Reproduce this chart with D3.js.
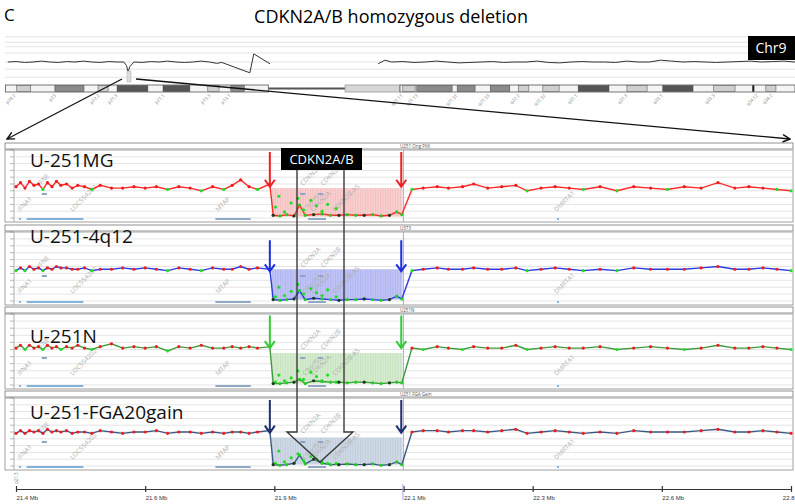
<!DOCTYPE html>
<html lang="en">
<head>
<meta charset="utf-8">
<title>CDKN2A/B homozygous deletion</title>
<script src="https://cdn.jsdelivr.net/npm/d3@7"></script>
<style>
  body { margin: 0; background: #fff; }
  svg { display: block; font-family: "Open Sans", sans-serif; }
</style>
</head>
<body>
<div id="chart"></div>
<script>
'use strict';

// ---- chromosome 9 overview: position (Mb) and copy number ----
const chrPos = [0.5, 2, 3.5, 5, 6.5, 8, 9.5, 11, 12.5, 14, 15.5, 17, 18.5, 20, 21.2, 21.7, 21.95, 22.3, 23, 24.5,
  26, 27.5, 29, 30.5, 32, 33.5, 35, 36.5, 37.8, 38.7, 43.7, 44.4, 47.3,
  55,
  66.6, 67.8, 69, 71, 73, 75, 77, 79, 81, 83, 85, 87, 89, 91, 93, 95, 97, 99, 101, 103, 105,
  107, 109, 111, 113, 115, 117, 119, 121, 123, 125, 127, 129, 131, 133, 135, 137, 139, 141];
const chrCN = [2.0, 2.05, 1.95, 2.0, 2.1, 2.0, 1.95, 2.05, 2.0, 2.1, 2.0, 1.95, 2.05, 2.0, 2.0, 1.6, 0.9, 1.5, 2.0, 1.95,
  2.05, 2.0, 2.1, 2.0, 1.95, 2.0, 2.1, 2.0, 1.85, 1.95, 0.8, 2.9, 1.8,
  null,
  1.8, 2.2, 2.0, 2.05, 1.95, 2.0, 2.1, 2.0, 1.9, 1.95, 2.0, 2.05, 1.95, 2.0, 2.0, 2.1, 1.95, 1.9, 2.0, 2.05,
  2.0, 2.0, 1.95, 2.1, 2.0, 2.0, 2.2, 2.1, 2.0, 2.05, 2.0, 1.95, 2.0, 2.05, 2.1, 2.0, 2.05, 2.1, 2.0];

// cytobands (Mb) and stain
const bandStart = [2.1, 8.9, 16.6, 20.0, 28.2, 36.2, 40.3, 71.0, 73.5, 80.7, 86.6, 91.6, 96.0, 102.3, 111.0, 117.4, 126.5, 133.4, 135.8];
const bandEnd   = [4.6, 14.1, 18.4, 25.5, 33.0, 38.2, 42.7, 73.2, 79.8, 83.9, 90.1, 93.5, 98.9, 107.8, 114.6, 122.8, 130.3, 133.7, 137.6];
const bandStain = ['l', 'm', 'l', 'd', 'd', 'l', 'm', 'l', 'm', 'm', 'm', 'l', 'l', 'd', 'l', 'd', 'l', 'k', 'l'];
const bandLabelPos = [1.4, 8.6, 16.4, 19.6, 28.0, 36.2, 39.8, 70.5, 73.2, 80.3, 86.0, 91.4, 96.0, 101.7, 110.6, 116.9, 126.2, 133.9, 136.5];
const bandLabels = ['p24.2', 'p23', 'p22.2', 'p21.3', 'p21.1', 'p13.3', 'p13.1', 'q21.11', 'q21.13', 'q21.31', 'q21.33',
  'q22.2', 'q22.32', 'q31.1', 'q31.3', 'q33.1', 'q33.3', 'q34.12', 'q34.2'];

// ---- zoomed region: probe positions (Mb) ----
const probePos = [21.400, 21.408, 21.416, 21.424, 21.432, 21.440, 21.448, 21.456, 21.464, 21.472, 21.480, 21.490,
  21.500, 21.510, 21.522, 21.535, 21.550, 21.570, 21.590, 21.610, 21.630, 21.650, 21.670, 21.690, 21.710, 21.730,
  21.750, 21.770, 21.785, 21.800, 21.815, 21.830, 21.852,
  21.858, 21.870, 21.882, 21.895, 21.905, 21.915, 21.930, 21.945, 21.960, 21.975, 21.990, 22.005, 22.020, 22.035,
  22.050, 22.065, 22.078, 22.087,
  22.105, 22.125, 22.150, 22.170, 22.195, 22.215, 22.240, 22.265, 22.290, 22.310, 22.335, 22.360, 22.385, 22.410,
  22.440, 22.470, 22.500, 22.530, 22.560, 22.590, 22.620, 22.650, 22.680, 22.705, 22.730, 22.755, 22.780];

const cnU251MG = [2.3, 2.6, 2.2, 2.7, 2.4, 2.5, 2.1, 2.6, 2.3, 2.7, 2.4, 2.5, 2.2, 2.4, 2.3, 2.1, 2.4, 2.2, 2.2, 2.3,
  2.2, 2.3, 2.1, 2.3, 2.2, 2.0, 2.3, 2.1, 2.4, 2.8, 2.3, 2.1, 2.5,
  0.2, 0.15, 0.25, 0.15, 0.95, 0.2, 0.25, 0.3, 0.2, 0.2, 0.25, 0.2, 0.2, 0.25, 0.15, 0.2, 0.45, 0.25,
  2.1, 2.2, 2.3, 2.2, 2.3, 2.5, 2.2, 2.3, 2.4, 2.0, 2.2, 2.3, 2.2, 2.1, 2.3, 2.0, 2.3, 2.2, 2.1, 2.3, 2.2, 2.6, 2.2,
  2.3, 2.2, 2.1, 2.0];
const cn4q12 = [2.2, 2.4, 2.2, 2.5, 2.3, 2.4, 2.2, 2.4, 2.3, 2.5, 2.4, 2.4, 2.3, 2.3, 2.4, 2.2, 2.3, 2.3, 2.4, 2.3,
  2.4, 2.3, 2.2, 2.4, 2.3, 2.2, 2.4, 2.3, 2.3, 2.5, 2.3, 2.4, 2.3,
  0.1, 0.05, 0.1, 0.15, 0.75, 0.1, 0.2, 0.15, 0.1, 0.05, 0.1, 0.1, 0.15, 0.1, 0.05, 0.1, 0.35, 0.15,
  2.2, 2.3, 2.4, 2.3, 2.3, 2.4, 2.3, 2.3, 2.4, 2.2, 2.3, 2.4, 2.3, 2.2, 2.3, 2.2, 2.4, 2.3, 2.3, 2.3, 2.4, 2.5, 2.3,
  2.3, 2.4, 2.3, 2.2];
const cnU251N = [2.6, 2.8, 2.5, 2.8, 2.6, 2.7, 2.5, 2.8, 2.6, 2.7, 2.5, 2.7, 2.6, 2.8, 2.6, 2.5, 2.7, 2.9, 2.6, 2.7,
  2.6, 2.7, 2.4, 2.7, 2.6, 2.8, 2.6, 2.6, 2.7, 2.6, 2.7, 2.6, 2.7,
  0.1, 0.1, 0.15, 0.2, 0.4, 0.1, 0.3, 0.25, 0.2, 0.2, 0.15, 0.2, 0.2, 0.15, 0.1, 0.15, 0.2, 0.15,
  2.6, 2.5, 2.7, 2.6, 2.5, 2.7, 2.6, 2.6, 2.8, 2.5, 2.6, 2.7, 2.6, 2.6, 2.7, 2.5, 2.6, 2.7, 2.6, 2.5, 2.6, 2.8, 2.6,
  2.6, 2.7, 2.6, 2.5];
const cnFGA = [2.4, 2.6, 2.4, 2.6, 2.5, 2.6, 2.4, 2.7, 2.5, 2.6, 2.5, 2.6, 2.4, 2.5, 2.5, 2.4, 2.6, 2.5, 2.4, 2.5,
  2.5, 2.6, 2.4, 2.5, 2.5, 2.4, 2.5, 2.4, 2.5, 2.5, 2.4, 2.5, 2.6,
  0.1, 0.05, 0.1, 0.2, 0.8, 0.15, 0.5, 0.2, 0.1, 0.1, 0.15, 0.1, 0.1, 0.15, 0.05, 0.1, 0.3, 0.1,
  2.5, 2.6, 2.6, 2.5, 2.6, 2.6, 2.5, 2.6, 2.7, 2.4, 2.5, 2.6, 2.5, 2.4, 2.5, 2.4, 2.6, 2.5, 2.5, 2.5, 2.6, 2.7, 2.5,
  2.5, 2.6, 2.5, 2.4];

// scattered probes inside the deletion
const scatterPos = [21.862, 21.868, 21.878, 21.890, 21.902, 21.912, 21.925, 21.935, 21.945, 21.955, 21.970];
const scU251MG = [0.8, 1.6, 0.45, 1.1, 1.45, 0.6, 1.3, 0.9, 0.5, 1.0, 0.7];
const sc4q12   = [0.3, 1.0, 0.4, 0.7, 1.2, 0.5, 0.9, 0.6, 0.4, 0.8, 0.3];
const scU251N  = [0.2, 0.7, 0.3, 0.5, 1.0, 0.4, 0.9, 0.6, 0.3, 0.7, 0.2];
const scFGA    = [0.2, 1.1, 0.3, 0.6, 0.9, 0.4, 0.7, 0.5, 0.3, 0.2, 0.2];

const panelNames = ['U-251MG', 'U-251-4q12', 'U-251N', 'U-251-FGA20gain'];
const headerNames = ['U251 Orig P66', 'U373', 'U251N', 'U251 FGA Gain'];
const cnSeries = [cnU251MG, cn4q12, cnU251N, cnFGA];
const scatterSeries = [scU251MG, sc4q12, scU251N, scFGA];
const normalLevel = [2.2, 2.3, 2.6, 2.4];   // dots above are red, below green
const shadeTop = [2.2, 2.3, 2.25, 2.1];
const arrowTop = [4.85, 4.4, 4.9, 4.85];
const arrowTip = [2.3, 2.15, 2.6, 2.45];
const deletion = [21.855, 22.088];

// genes (Mb) and label row
const geneNames = ['IFNA1', 'IFNE', 'LOC554202', 'MTAP', 'CDKN2A', 'CDKN2B', 'C9orf53', 'CDKN2A', 'CDKN2B-AS', 'DMRTA1'];
const genePos = [21.407, 21.443, 21.501, 21.760, 21.911, 21.947, 21.915, 21.929, 21.968, 22.363];
const geneRow = [0, 1, 0, 0, 1, 1, 0, 0, 0, 0];
const transStart = [21.419, 21.755, 21.920];
const transEnd = [21.520, 21.818, 21.952];
const probeMarks = [21.446, 21.906, 21.938];

const axisTicks = [21.4, 21.63, 21.86, 22.09, 22.32, 22.55, 22.78];
const axisLabels = ['21.4 Mb', '21.6 Mb', '21.9 Mb', '22.1 Mb', '22.3 Mb', '22.6 Mb', '22.8'];

// ---- styling ----
const lineColor = ['#ff2a2a', '#2b3be0', '#3c9a3c', '#3d5a86'];
const arrowColor = ['#f02020', '#1c2ee0', '#33cc33', '#1f2f6f'];
const shadeColor = ['#f8d0d0', '#c0c4f4', '#d6ecd0', '#cfdae6'];
const hatchColor = ['#eeaaaa', '#9ea4ec', '#b4d8aa', '#aebfd2'];
const stainColor = { l: '#cfcfcf', m: '#8a8a8a', d: '#555', k: '#111' };

const width = 795, height = 504;
const panelTop = [143, 225, 307, 391];
const panelBottom = [222, 305, 389, 470];

const svg = d3.select('#chart').append('svg')
  .attr('width', width)
  .attr('height', height);

const defs = svg.append('defs');

// title
svg.append('text').attr('x', 4).attr('y', 21).attr('font-size', 17).text('C');
svg.append('text').attr('x', 391).attr('y', 23).attr('font-size', 18)
  .attr('text-anchor', 'middle').text('CDKN2A/B homozygous deletion');

// ---- overview ----
const cx = d3.scaleLinear().domain([0, 141]).range([5, 795]);
const cy = d3.scaleLinear().domain([0, 5]).range([80, 35]);

svg.append('g').selectAll('line')
  .data([0.3, 1.2, 2, 3, 3.7, 4.2, 4.8])
  .enter().append('line')
  .attr('x1', 5).attr('x2', 795)
  .attr('y1', d => cy(d)).attr('y2', d => cy(d))
  .attr('stroke', '#dcdcdc').attr('stroke-width', 0.8);

svg.append('path')
  .datum(chrPos.map((p, i) => [p, chrCN[i]]))
  .attr('fill', 'none').attr('stroke', '#333').attr('stroke-width', 1)
  .attr('d', d3.line().defined(d => d[1] !== null).x(d => cx(d[0])).y(d => cy(d[1])));

svg.append('rect').attr('x', 127).attr('y', 71).attr('width', 4).attr('height', 11)
  .attr('fill', '#ddd').attr('stroke', '#aaa').attr('stroke-width', 0.5);

svg.append('rect').attr('x', 748).attr('y', 36).attr('width', 47).attr('height', 24).attr('fill', '#000');
svg.append('text').attr('x', 771).attr('y', 53).attr('font-size', 14).attr('fill', '#fff')
  .attr('text-anchor', 'middle').text('Chr9');

// ideogram
const ideo = svg.append('g');
ideo.append('line').attr('x1', cx(47)).attr('x2', cx(60.7)).attr('y1', 88.5).attr('y2', 88.5)
  .attr('stroke', '#555').attr('stroke-width', 2);
ideo.append('rect').attr('x', cx(0.1)).attr('y', 85).attr('width', cx(47) - cx(0.1)).attr('height', 7)
  .attr('fill', '#f4f4f4').attr('stroke', '#555').attr('stroke-width', 0.8);
ideo.append('rect').attr('x', cx(60.7)).attr('y', 85).attr('width', cx(70.5) - cx(60.7)).attr('height', 7)
  .attr('fill', '#d6d6d6').attr('stroke', '#999').attr('stroke-width', 0.8);
ideo.append('rect').attr('x', cx(70.5)).attr('y', 85).attr('width', cx(141) - cx(70.5)).attr('height', 7)
  .attr('fill', '#f4f4f4').attr('stroke', '#555').attr('stroke-width', 0.8);
ideo.selectAll('.band')
  .data(bandStart)
  .enter().append('rect')
  .attr('class', 'band')
  .attr('x', d => cx(d))
  .attr('y', 85.5)
  .attr('width', (d, i) => Math.max(1, cx(bandEnd[i]) - cx(d)))
  .attr('height', 6)
  .attr('fill', (d, i) => stainColor[bandStain[i]])
  .attr('stroke', '#444').attr('stroke-width', 0.5);
ideo.selectAll('.blab')
  .data(bandLabels)
  .enter().append('text')
  .attr('class', 'blab')
  .attr('transform', (d, i) => 'translate(' + (cx(bandLabelPos[i]) + 3) + ',96) rotate(-45)')
  .attr('text-anchor', 'end')
  .attr('font-size', 4.5).attr('fill', '#777')
  .text(d => d);

// zoom lines with open arrowheads
defs.append('marker').attr('id', 'open')
  .attr('viewBox', '0 0 10 10').attr('refX', 9).attr('refY', 5)
  .attr('markerWidth', 7).attr('markerHeight', 7).attr('orient', 'auto')
  .append('path').attr('d', 'M1,1 L9,5 L1,9').attr('fill', 'none').attr('stroke', '#111').attr('stroke-width', 1.6);
svg.append('line').attr('x1', 122).attr('y1', 79).attr('x2', 7).attr('y2', 139)
  .attr('stroke', '#111').attr('stroke-width', 1.3).attr('marker-end', 'url(#open)');
svg.append('line').attr('x1', 136).attr('y1', 79).attr('x2', 790).attr('y2', 139)
  .attr('stroke', '#111').attr('stroke-width', 1.3).attr('marker-end', 'url(#open)');

// ---- zoomed panels ----
const x = d3.scaleLinear().domain([21.4, 22.78]).range([16, 791]);
const gridVals = [0, 0.5, 1, 1.5, 2, 2.5, 3, 3.5, 4, 4.5, 5];

panelNames.forEach((name, i) => {
  const top = panelTop[i], plotTop = top + 7, bottom = panelBottom[i];
  const y = d3.scaleLinear().domain([0, 5]).range([bottom - 4, plotTop]);
  const g = svg.append('g');

  // hatch pattern for the deleted segment
  const pat = defs.append('pattern').attr('id', 'hatch' + i)
    .attr('patternUnits', 'userSpaceOnUse').attr('width', 2.5).attr('height', 4);
  pat.append('rect').attr('width', 2.5).attr('height', 4).attr('fill', shadeColor[i]);
  pat.append('line').attr('x1', 0.5).attr('x2', 0.5).attr('y1', 0).attr('y2', 4)
    .attr('stroke', hatchColor[i]).attr('stroke-width', 0.5);

  // header strip and frame
  g.append('rect').attr('x', 5).attr('y', top).attr('width', 788).attr('height', 6)
    .attr('fill', '#fff').attr('stroke', '#777').attr('stroke-width', 0.8);
  g.append('text').attr('x', 400).attr('y', top + 5).attr('font-size', 4.5).attr('fill', '#555')
    .text(headerNames[i]);
  g.append('rect').attr('x', 5).attr('y', plotTop).attr('width', 788).attr('height', bottom - plotTop)
    .attr('fill', '#fff').attr('stroke', '#888').attr('stroke-width', 0.8);
  g.append('line').attr('x1', 14).attr('x2', 14).attr('y1', plotTop).attr('y2', bottom)
    .attr('stroke', '#999').attr('stroke-width', 0.8);

  // grid
  g.append('g').selectAll('line')
    .data(gridVals)
    .enter().append('line')
    .attr('x1', 14).attr('x2', 793)
    .attr('y1', d => y(d)).attr('y2', d => y(d))
    .attr('stroke', '#d8d8d8').attr('stroke-width', 0.7);
  g.append('g').selectAll('line')
    .data(gridVals)
    .enter().append('line')
    .attr('x1', 10).attr('x2', 14)
    .attr('y1', d => y(d)).attr('y2', d => y(d))
    .attr('stroke', '#888').attr('stroke-width', 0.6);

  // deleted segment
  g.append('rect')
    .attr('x', x(deletion[0])).attr('y', y(shadeTop[i]))
    .attr('width', x(deletion[1]) - x(deletion[0]))
    .attr('height', y(0.1) - y(shadeTop[i]))
    .attr('fill', 'url(#hatch' + i + ')');

  // breakpoint marker
  g.append('line').attr('x1', x(deletion[1]) + 1).attr('x2', x(deletion[1]) + 1)
    .attr('y1', plotTop).attr('y2', bottom)
    .attr('stroke', '#a4a4f2').attr('stroke-width', 1);

  // genes
  g.selectAll('.tx')
    .data(transStart)
    .enter().append('rect')
    .attr('x', d => x(d)).attr('y', bottom - 4)
    .attr('width', (d, j) => x(transEnd[j]) - x(d)).attr('height', 2)
    .attr('fill', (d, j) => j === 0 ? '#7fb3dd' : '#8fa8c4');
  g.append('rect').attr('x', x(21.407) - 1).attr('y', bottom - 4).attr('width', 2).attr('height', 2).attr('fill', '#7fb3dd');
  g.append('rect').attr('x', x(22.365) - 1).attr('y', bottom - 4).attr('width', 2).attr('height', 2).attr('fill', '#7fb3dd');
  g.selectAll('.pm')
    .data(probeMarks)
    .enter().append('rect')
    .attr('x', d => x(d)).attr('y', plotTop + 43)
    .attr('width', 5).attr('height', 2)
    .attr('fill', '#8aa2c8');
  g.selectAll('.gl')
    .data(geneNames)
    .enter().append('text')
    .attr('transform', (d, j) => 'translate(' + x(genePos[j]) + ',' + (plotTop + (geneRow[j] ? 36 : 62)) + ') rotate(-45)')
    .attr('font-size', 6.5).attr('fill', '#b0b0b0')
    .text(d => d);

  // copy number line and probes
  const cn = cnSeries[i];
  g.append('path')
    .datum(probePos.map((p, j) => [p, cn[j]]))
    .attr('fill', 'none').attr('stroke', lineColor[i]).attr('stroke-width', 1.4)
    .attr('d', d3.line().x(d => x(d[0])).y(d => y(d[1])));
  g.selectAll('.sc')
    .data(scatterPos)
    .enter().append('circle')
    .attr('cx', d => x(d)).attr('cy', (d, j) => y(scatterSeries[i][j]))
    .attr('r', 1.6).attr('fill', '#22dd22');
  g.selectAll('.pt')
    .data(probePos)
    .enter().append('circle')
    .attr('cx', d => x(d)).attr('cy', (d, j) => y(cn[j]))
    .attr('r', 1.6)
    .attr('fill', (d, j) => {
      if (d > deletion[0] && d < deletion[1]) return j % 3 === 0 ? '#1a3a1a' : '#22cc22';
      return cn[j] >= normalLevel[i] ? '#ee1c1c' : '#22dd22';
    });

  // breakpoint arrows
  [deletion[0] - 0.003, deletion[1] - 0.002].forEach(p => {
    const ax = x(p), y0 = y(arrowTop[i]), y1 = y(arrowTip[i]);
    g.append('path')
      .attr('d', 'M' + ax + ',' + y0 + 'V' + y1 + 'M' + (ax - 5) + ',' + (y1 - 7) + 'L' + ax + ',' + y1 + 'L' + (ax + 5) + ',' + (y1 - 7))
      .attr('fill', 'none').attr('stroke', arrowColor[i]).attr('stroke-width', 2);
  });

  // sample label
  g.append('text').attr('x', 30).attr('y', [167, 243, 343, 419][i])
    .attr('font-size', 19).attr('fill', '#111').text(name);
});

// CDKN2A/B locus pointer
svg.append('path')
  .attr('d', 'M297,170V432H287L320,462L353,432H344V170')
  .attr('fill', 'none').attr('stroke', '#3a3a3a').attr('stroke-width', 1.4);
svg.append('rect').attr('x', 281).attr('y', 148).attr('width', 81).attr('height', 22).attr('fill', '#000');
svg.append('text').attr('x', 321.5).attr('y', 164).attr('font-size', 13).attr('fill', '#fff')
  .attr('text-anchor', 'middle').text('CDKN2A/B');

// bottom axis
const axis = svg.append('g')
  .attr('transform', 'translate(0,486)')
  .call(d3.axisBottom(x).tickValues(axisTicks).tickFormat((d, i) => axisLabels[i]).tickSize(6).tickSizeOuter(0).tickPadding(4));
axis.select('.domain').attr('transform', 'translate(0,3)').attr('stroke', '#333');
axis.selectAll('.tick line').attr('stroke', '#333').attr('stroke-width', 1.2);
axis.selectAll('.tick text').attr('font-size', 6).attr('fill', '#333')
  .attr('text-anchor', (d, i) => i === axisTicks.length - 1 ? 'end' : 'start')
  .attr('dx', (d, i) => i === axisTicks.length - 1 ? 3 : 0);
svg.append('line').attr('x1', x(22.089)).attr('x2', x(22.089)).attr('y1', 484).attr('y2', 500)
  .attr('stroke', '#a4a4f2').attr('stroke-width', 1);
svg.append('text').attr('transform', 'translate(18,484) rotate(-90)')
  .attr('font-size', 4.5).attr('fill', '#777').text('p21.3');
</script>
</body>
</html>
